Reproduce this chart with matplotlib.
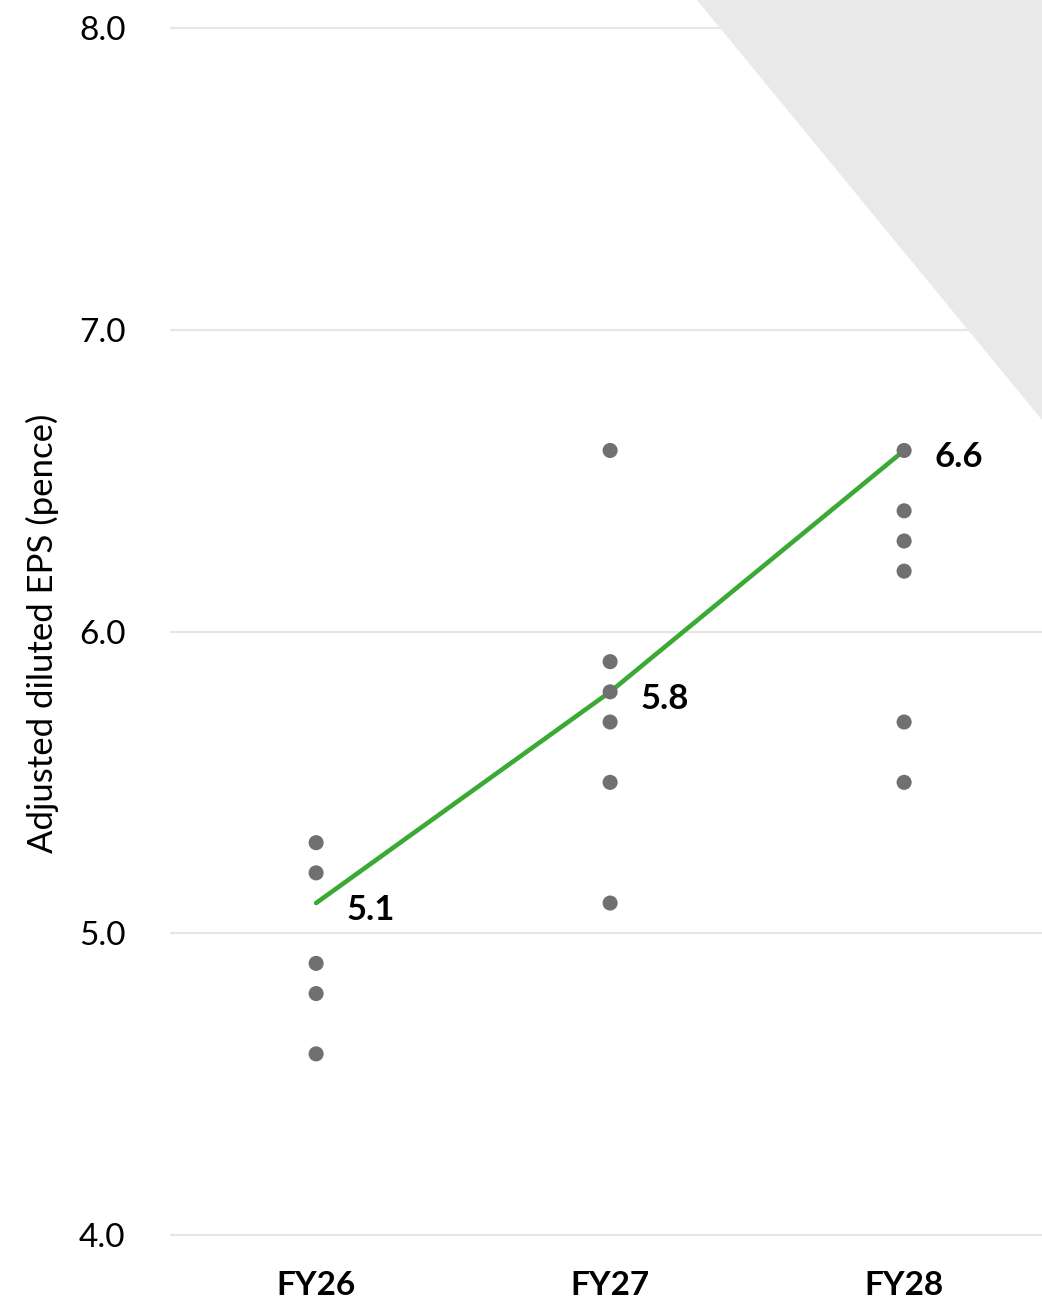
import matplotlib
matplotlib.use("Agg")
import matplotlib.pyplot as plt
from matplotlib.patches import Polygon

plt.rcParams['font.family'] = ['Lato', 'DejaVu Sans']

# Analyst estimates per year and the consensus line
years = ["FY26", "FY27", "FY28"]
estimates_fy26 = [5.3, 5.2, 4.9, 4.8, 4.6]
estimates_fy27 = [6.6, 5.9, 5.8, 5.7, 5.5, 5.1]
estimates_fy28 = [7.7, 7.3, 6.6, 6.4, 6.3, 6.2, 5.7, 5.5]
consensus = [5.1, 5.8, 6.6]
y_ticks = [4.0, 5.0, 6.0, 7.0, 8.0]

W, H = 1042, 1303
fig = plt.figure(figsize=(W / 100, H / 100), dpi=100)

# Decorative light-grey wedge in the top-right corner
wedge = Polygon([(697 / W, 1.0), (1.0, 1.0), (1.0, 1 - 420 / H)],
                closed=True, transform=fig.transFigure,
                facecolor="#e9e9e9", edgecolor="none", zorder=0)
fig.patches.append(wedge)

ax = fig.add_axes([170 / W, 1 - 1250 / H, 1 - 170 / W, (1250 - 13) / H])
ax.patch.set_alpha(0)
ax.set_xlim(-0.497, 2.469)
ax.set_ylim(3.95, 8.05)

ax.plot(range(len(years)), consensus, color="#3aaa35", linewidth=3.3,
        solid_capstyle="round", zorder=4)
for i, vals in enumerate([estimates_fy26, estimates_fy27, estimates_fy28]):
    ax.scatter([i] * len(vals), vals, s=118, color="#707070",
               edgecolors="none", zorder=5)

for i, v in enumerate(consensus):
    ax.annotate(f"{v:.1f}", (i, v), xytext=(22, -5), textcoords="offset points",
                ha="left", va="center", fontsize=25, fontweight="bold",
                color="black", zorder=6)

ax.set_yticks(y_ticks)
ax.set_yticklabels([f"{t:.1f}" for t in y_ticks])
ax.set_xticks(range(len(years)))
ax.set_xticklabels(years, fontweight="bold")
ax.tick_params(axis="y", length=0, pad=32, labelsize=24, labelcolor="black")
ax.tick_params(axis="x", length=0, pad=15, labelsize=24, labelcolor="black")
ax.grid(axis="y", color="#e6e6e6", linewidth=1.5)
ax.grid(axis="x", visible=False)
ax.set_axisbelow(True)
for s in ax.spines.values():
    s.set_visible(False)

fig.text(42 / W, 1 - 633 / H, "Adjusted diluted EPS (pence)", rotation=90,
         ha="center", va="center", fontsize=25, color="black")

fig.savefig("out.png", dpi=100)
